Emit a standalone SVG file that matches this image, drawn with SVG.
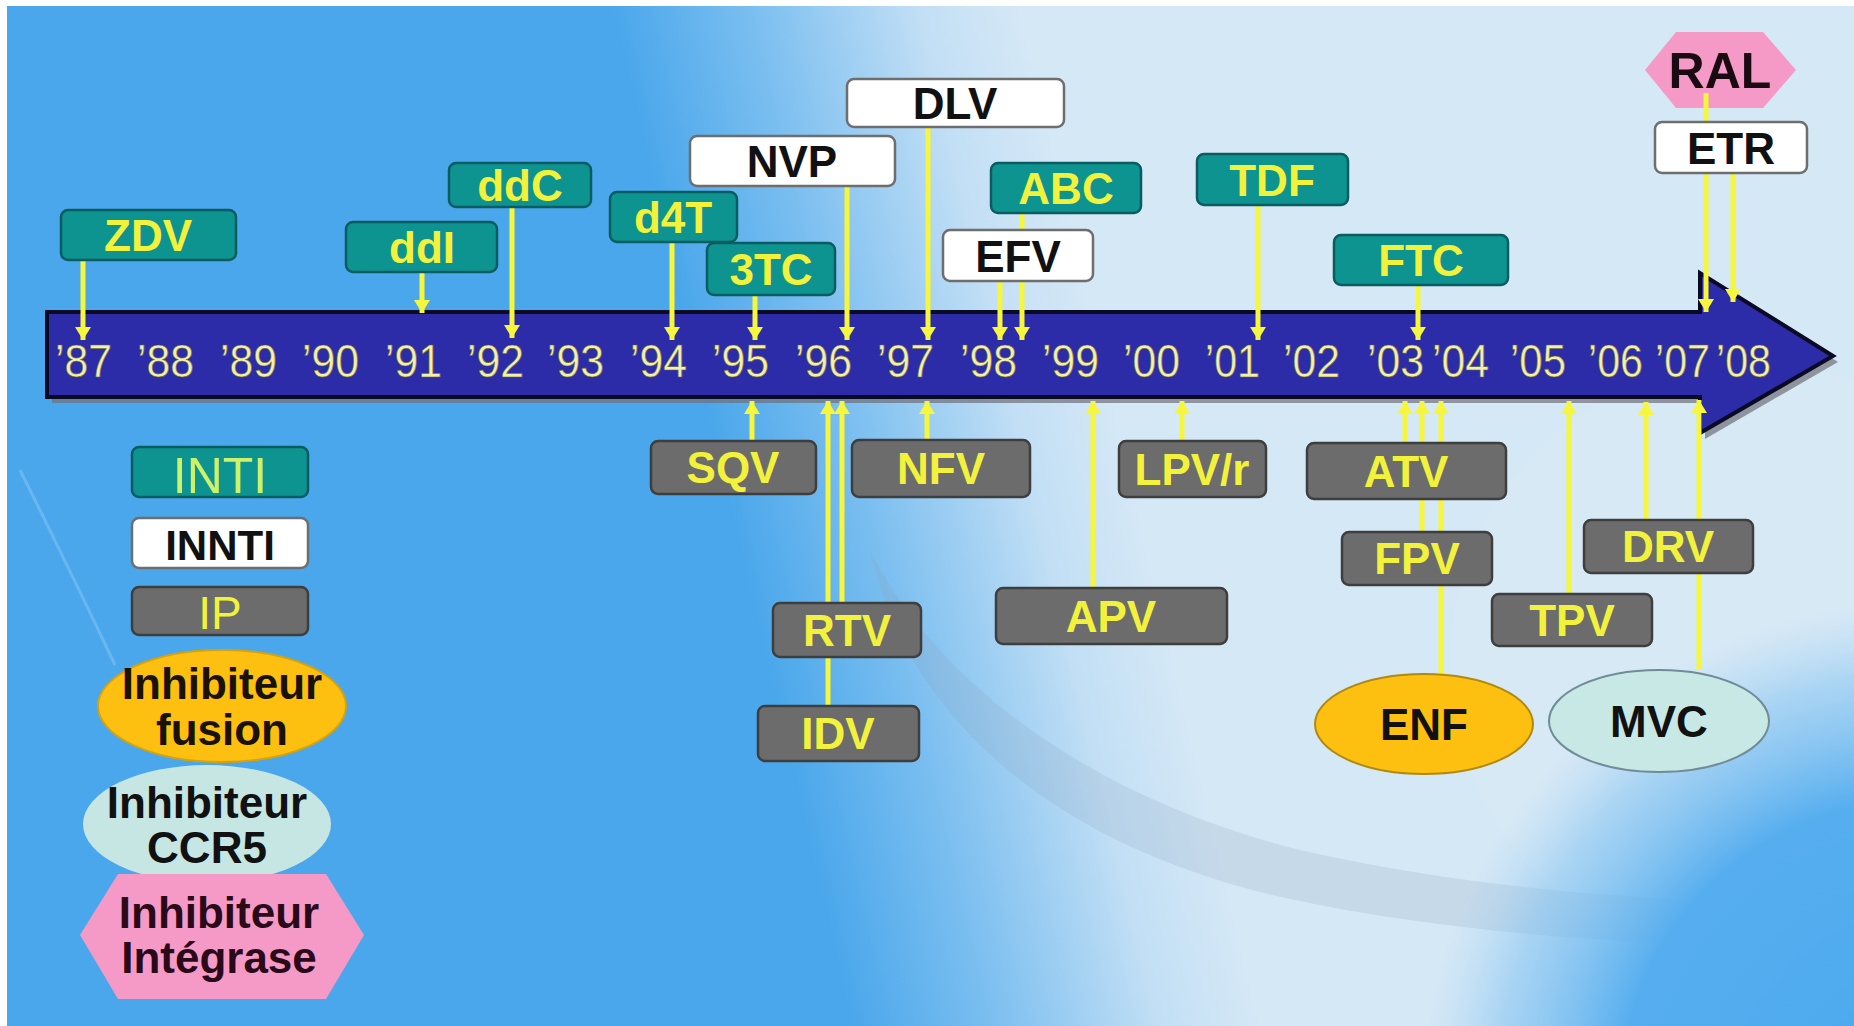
<svg xmlns="http://www.w3.org/2000/svg" width="1854" height="1026" viewBox="0 0 1854 1026">
<style>
.teal{fill:#0e9490;stroke:#0b5c60;stroke-width:2.5}
.gray{fill:#6c6c6c;stroke:#3e3e3e;stroke-width:2.5}
.white{fill:#ffffff;stroke:#6e6e6e;stroke-width:2.5}
.ty{font-family:"Liberation Sans",Arial,sans-serif;font-weight:bold;font-size:44px;fill:#f2f23c;text-anchor:middle}
.tb{font-family:"Liberation Sans",Arial,sans-serif;font-weight:bold;font-size:44px;fill:#111111;text-anchor:middle}
.yr{font-family:"Liberation Sans",Arial,sans-serif;font-size:46px;fill:#f3efb0;stroke:#6a6420;stroke-width:0.6}
.con line{stroke:#f6f63c;stroke-width:5}
.lg{font-family:"Liberation Sans",Arial,sans-serif;text-anchor:middle}
</style>
<defs>
<linearGradient id="bg" gradientUnits="userSpaceOnUse" x1="745" y1="576" x2="1135" y2="484">
<stop offset="0" stop-color="#4aa7eb"/>
<stop offset="0.35" stop-color="#7cbff0"/>
<stop offset="0.75" stop-color="#c2dff5"/>
<stop offset="1" stop-color="#d5e8f6"/>
</linearGradient>
<radialGradient id="br" gradientUnits="userSpaceOnUse" cx="1920" cy="1100" r="500">
<stop offset="0" stop-color="#4aa8ee" stop-opacity="1"/>
<stop offset="0.6" stop-color="#56aeef" stop-opacity="1"/>
<stop offset="0.85" stop-color="#7cc0f1" stop-opacity="0.5"/>
<stop offset="1" stop-color="#a0d0f3" stop-opacity="0"/>
</radialGradient>
<marker id="ah" markerUnits="userSpaceOnUse" markerWidth="13" markerHeight="16" refX="13" refY="8" orient="auto">
<path d="M0,0 L13,8 L0,16 Z" fill="#f6f63c"/>
</marker>
</defs>

<!-- background -->
<rect x="0" y="0" width="1854" height="1026" fill="#ffffff"/>
<rect x="7" y="6" width="1847" height="1020" fill="url(#bg)"/>
<circle cx="1750" cy="662" r="300" fill="#ffffff" opacity="0.08"/>
<path d="M870,550 C940,690 1100,800 1300,850 C1500,895 1700,905 1854,900 L1854,945 C1700,948 1480,940 1285,898 C1070,850 910,730 870,550 Z" fill="#8aa2b8" opacity="0.2"/>
<rect x="7" y="6" width="1847" height="1020" fill="url(#br)"/>
<path d="M20,470 Q70,570 115,665" stroke="#ffffff" stroke-width="3" fill="none" opacity="0.18"/>

<!-- timeline arrow -->
<g id="timeline">
<path d="M47,312 L1700,312 L1700,273 L1833,356 L1700,433 L1700,397 L47,397 Z" fill="#6f6f78" opacity="0.7" transform="translate(5,6)"/>
<path d="M47,312 L1700,312 L1700,273 L1833,356 L1700,433 L1700,397 L47,397 Z" fill="#2c2ca8" stroke="#0a0a24" stroke-width="4" stroke-linejoin="miter"/>
<text class="yr" x="55" y="377" textLength="57" lengthAdjust="spacingAndGlyphs">’87</text>
<text class="yr" x="137" y="377" textLength="57" lengthAdjust="spacingAndGlyphs">’88</text>
<text class="yr" x="220" y="377" textLength="57" lengthAdjust="spacingAndGlyphs">’89</text>
<text class="yr" x="302" y="377" textLength="57" lengthAdjust="spacingAndGlyphs">’90</text>
<text class="yr" x="385" y="377" textLength="57" lengthAdjust="spacingAndGlyphs">’91</text>
<text class="yr" x="467" y="377" textLength="57" lengthAdjust="spacingAndGlyphs">’92</text>
<text class="yr" x="547" y="377" textLength="57" lengthAdjust="spacingAndGlyphs">’93</text>
<text class="yr" x="630" y="377" textLength="57" lengthAdjust="spacingAndGlyphs">’94</text>
<text class="yr" x="712" y="377" textLength="57" lengthAdjust="spacingAndGlyphs">’95</text>
<text class="yr" x="795" y="377" textLength="57" lengthAdjust="spacingAndGlyphs">’96</text>
<text class="yr" x="877" y="377" textLength="57" lengthAdjust="spacingAndGlyphs">’97</text>
<text class="yr" x="960" y="377" textLength="57" lengthAdjust="spacingAndGlyphs">’98</text>
<text class="yr" x="1042" y="377" textLength="57" lengthAdjust="spacingAndGlyphs">’99</text>
<text class="yr" x="1123" y="377" textLength="57" lengthAdjust="spacingAndGlyphs">’00</text>
<text class="yr" x="1205" y="377" textLength="55" lengthAdjust="spacingAndGlyphs">’01</text>
<text class="yr" x="1283" y="377" textLength="57" lengthAdjust="spacingAndGlyphs">’02</text>
<text class="yr" x="1367" y="377" textLength="57" lengthAdjust="spacingAndGlyphs">’03</text>
<text class="yr" x="1432" y="377" textLength="57" lengthAdjust="spacingAndGlyphs">’04</text>
<text class="yr" x="1510" y="377" textLength="56" lengthAdjust="spacingAndGlyphs">’05</text>
<text class="yr" x="1588" y="377" textLength="55" lengthAdjust="spacingAndGlyphs">’06</text>
<text class="yr" x="1655" y="377" textLength="55" lengthAdjust="spacingAndGlyphs">’07</text>
<text class="yr" x="1716" y="377" textLength="55" lengthAdjust="spacingAndGlyphs">’08</text>
</g>

<g id="n-RAL">
<path d="M1645,70 L1676,32 L1763,32 L1796,70 L1763,108 L1676,108 Z" fill="#f59ac6"/>
<text class="tb" x="1720" y="88" style="font-size:50px;fill:#1a0a12">RAL</text>
</g>

<!-- connectors -->
<g id="connectors" class="con">
<line x1="83" y1="260" x2="83" y2="340" marker-end="url(#ah)"/>
<line x1="422" y1="272" x2="422" y2="313" marker-end="url(#ah)"/>
<line x1="512" y1="207" x2="512" y2="338" marker-end="url(#ah)"/>
<line x1="672" y1="242" x2="672" y2="340" marker-end="url(#ah)"/>
<line x1="755" y1="295" x2="755" y2="340" marker-end="url(#ah)"/>
<line x1="847" y1="186" x2="847" y2="340" marker-end="url(#ah)"/>
<line x1="928" y1="127" x2="928" y2="340" marker-end="url(#ah)"/>
<line x1="1000" y1="281" x2="1000" y2="340" marker-end="url(#ah)"/>
<line x1="1022" y1="213" x2="1022" y2="340" marker-end="url(#ah)"/>
<line x1="1258" y1="205" x2="1258" y2="340" marker-end="url(#ah)"/>
<line x1="1418" y1="285" x2="1418" y2="340" marker-end="url(#ah)"/>
<line x1="1706" y1="93" x2="1706" y2="312" marker-end="url(#ah)"/>
<line x1="1733" y1="173" x2="1733" y2="302" marker-end="url(#ah)"/>
<line x1="752" y1="441" x2="752" y2="401" marker-end="url(#ah)"/>
<line x1="828" y1="706" x2="828" y2="401" marker-end="url(#ah)"/>
<line x1="842" y1="603" x2="842" y2="401" marker-end="url(#ah)"/>
<line x1="927" y1="440" x2="927" y2="401" marker-end="url(#ah)"/>
<line x1="1093" y1="588" x2="1093" y2="401" marker-end="url(#ah)"/>
<line x1="1182" y1="441" x2="1182" y2="401" marker-end="url(#ah)"/>
<line x1="1405" y1="443" x2="1405" y2="401" marker-end="url(#ah)"/>
<line x1="1422" y1="532" x2="1422" y2="401" marker-end="url(#ah)"/>
<line x1="1441" y1="674" x2="1441" y2="401" marker-end="url(#ah)"/>
<line x1="1569" y1="594" x2="1569" y2="401" marker-end="url(#ah)"/>
<line x1="1646" y1="520" x2="1646" y2="402" marker-end="url(#ah)"/>
<line x1="1699" y1="670" x2="1699" y2="400" marker-end="url(#ah)"/>
</g>

<!-- top nodes -->
<g id="n-ZDV"><rect class="teal" x="61" y="210" width="175" height="50" rx="7"/><text class="ty" x="148" y="251">ZDV</text></g>
<g id="n-ddI"><rect class="teal" x="346" y="222" width="151" height="50" rx="7"/><text class="ty" x="422" y="263">ddI</text></g>
<g id="n-ddC"><rect class="teal" x="449" y="163" width="142" height="44" rx="7"/><text class="ty" x="520" y="201">ddC</text></g>
<g id="n-d4T"><rect class="teal" x="610" y="192" width="127" height="50" rx="7"/><text class="ty" x="673" y="233">d4T</text></g>
<g id="n-3TC"><rect class="teal" x="707" y="243" width="128" height="52" rx="7"/><text class="ty" x="771" y="285">3TC</text></g>
<g id="n-NVP"><rect class="white" x="690" y="136" width="205" height="50" rx="7"/><text class="tb" x="792" y="177">NVP</text></g>
<g id="n-DLV"><rect class="white" x="847" y="79" width="217" height="48" rx="7"/><text class="tb" x="955" y="119">DLV</text></g>
<g id="n-ABC"><rect class="teal" x="991" y="163" width="150" height="50" rx="7"/><text class="ty" x="1066" y="204">ABC</text></g>
<g id="n-EFV"><rect class="white" x="943" y="230" width="150" height="51" rx="7"/><text class="tb" x="1018" y="272">EFV</text></g>
<g id="n-TDF"><rect class="teal" x="1197" y="154" width="151" height="51" rx="7"/><text class="ty" x="1272" y="196">TDF</text></g>
<g id="n-FTC"><rect class="teal" x="1334" y="235" width="174" height="50" rx="7"/><text class="ty" x="1421" y="276">FTC</text></g>
<g id="n-ETR"><rect class="white" x="1655" y="122" width="152" height="51" rx="7"/><text class="tb" x="1731" y="164">ETR</text></g>

<!-- bottom nodes -->
<g id="n-SQV"><rect class="gray" x="651" y="441" width="165" height="53" rx="7"/><text class="ty" x="733" y="483">SQV</text></g>
<g id="n-NFV"><rect class="gray" x="852" y="440" width="178" height="57" rx="7"/><text class="ty" x="941" y="484">NFV</text></g>
<g id="n-RTV"><rect class="gray" x="773" y="603" width="148" height="54" rx="7"/><text class="ty" x="847" y="646">RTV</text></g>
<g id="n-IDV"><rect class="gray" x="758" y="706" width="161" height="55" rx="7"/><text class="ty" x="838" y="749">IDV</text></g>
<g id="n-LPVr"><rect class="gray" x="1119" y="441" width="147" height="56" rx="7"/><text class="ty" x="1192" y="485">LPV/r</text></g>
<g id="n-APV"><rect class="gray" x="996" y="588" width="231" height="56" rx="7"/><text class="ty" x="1111" y="632">APV</text></g>
<g id="n-ATV"><rect class="gray" x="1307" y="443" width="199" height="56" rx="7"/><text class="ty" x="1406" y="487">ATV</text></g>
<g id="n-FPV"><rect class="gray" x="1342" y="532" width="150" height="53" rx="7"/><text class="ty" x="1417" y="574">FPV</text></g>
<g id="n-TPV"><rect class="gray" x="1492" y="594" width="160" height="52" rx="7"/><text class="ty" x="1572" y="636">TPV</text></g>
<g id="n-DRV"><rect class="gray" x="1584" y="520" width="169" height="53" rx="7"/><text class="ty" x="1668" y="562">DRV</text></g>
<g id="n-ENF"><ellipse cx="1424" cy="724" rx="109" ry="50" fill="#fdc010" stroke="#b08a10" stroke-width="2"/><text class="tb" x="1424" y="740">ENF</text></g>
<g id="n-MVC"><ellipse cx="1659" cy="721" rx="110" ry="51" fill="#c8e8e6" stroke="#6f8c98" stroke-width="2"/><text class="tb" x="1659" y="737">MVC</text></g>

<!-- legend -->
<g id="legend-INTI"><rect class="teal" x="132" y="447" width="176" height="50" rx="7"/><text class="lg" x="220" y="493" style="font-size:50px;fill:#cdf26a">INTI</text></g>
<g id="legend-INNTI"><rect class="white" x="132" y="518" width="176" height="50" rx="7"/><text class="lg" x="220" y="560" style="font-size:42px;font-weight:bold;fill:#111">INNTI</text></g>
<g id="legend-IP"><rect class="gray" x="132" y="587" width="176" height="48" rx="7"/><text class="lg" x="220" y="629" style="font-size:46px;fill:#f2f23c">IP</text></g>
<g id="legend-fusion"><ellipse cx="222" cy="706" rx="124" ry="56" fill="#fdc010" stroke="#d8a20a" stroke-width="2"/>
<text class="lg" x="222" y="699" style="font-size:44px;font-weight:bold;fill:#1a1206">Inhibiteur</text>
<text class="lg" x="222" y="745" style="font-size:44px;font-weight:bold;fill:#1a1206">fusion</text></g>
<g id="legend-CCR5"><ellipse cx="207" cy="824" rx="124" ry="59" fill="#c6e6e4"/>
<text class="lg" x="207" y="818" style="font-size:44px;font-weight:bold;fill:#111">Inhibiteur</text>
<text class="lg" x="207" y="863" style="font-size:44px;font-weight:bold;fill:#111">CCR5</text></g>
<g id="legend-integrase"><path d="M80,935 L118,874 L326,874 L364,935 L326,999 L118,999 Z" fill="#f59ac6"/>
<text class="lg" x="219" y="928" style="font-size:44px;font-weight:bold;fill:#2a0a18">Inhibiteur</text>
<text class="lg" x="219" y="973" style="font-size:44px;font-weight:bold;fill:#2a0a18">Intégrase</text></g>
</svg>
